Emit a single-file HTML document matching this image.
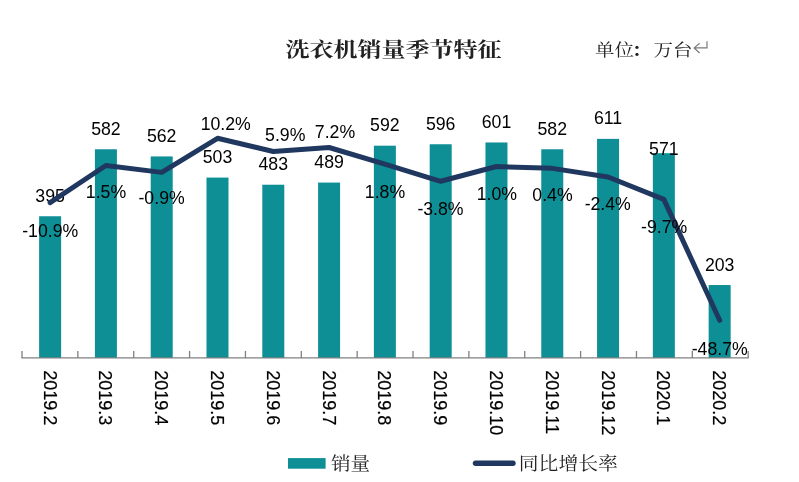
<!DOCTYPE html>
<html lang="zh-CN"><head><meta charset="utf-8"><title>洗衣机销量季节特征</title>
<style>
html,body{margin:0;padding:0;background:#fff;}
body{width:799px;height:482px;overflow:hidden;}
svg{display:block;}
.num{font-family:"Liberation Sans",sans-serif;font-size:17.70px;fill:#000;}
.cat{font-family:"Liberation Sans",sans-serif;font-size:18.7px;fill:#000;}
.cn{font-family:"Liberation Serif","Noto Serif CJK SC",serif;fill:#222;}
</style></head><body>
<svg width="799" height="482" viewBox="0 0 799 482">
<rect width="799" height="482" fill="#ffffff"/>
<text class="cn" transform="translate(393.5,57.3) scale(1,0.86)" text-anchor="middle" font-size="24" font-weight="700" fill="#000">洗衣机销量季节特征</text>
<text class="cn" transform="translate(595,55.6) scale(1,0.88)" font-size="19.5" fill="#222">单位<tspan dx="-2.3" font-weight="700">：</tspan><tspan dx="2.3">万台</tspan></text>
<path d="M707 41.3 V47.9 H694.4 M699.6 43.3 L694.2 47.9 L699.6 53" stroke="#7a7a7a" stroke-width="1.2" fill="none"/>
<rect x="39.12" y="216.25" width="22.0" height="141.75" fill="#0E8F96"/>
<rect x="94.91" y="149.27" width="22.0" height="208.73" fill="#0E8F96"/>
<rect x="150.71" y="156.43" width="22.0" height="201.57" fill="#0E8F96"/>
<rect x="206.50" y="177.57" width="22.0" height="180.43" fill="#0E8F96"/>
<rect x="262.30" y="184.73" width="22.0" height="173.27" fill="#0E8F96"/>
<rect x="318.09" y="182.58" width="22.0" height="175.42" fill="#0E8F96"/>
<rect x="373.88" y="145.69" width="22.0" height="212.31" fill="#0E8F96"/>
<rect x="429.68" y="144.25" width="22.0" height="213.75" fill="#0E8F96"/>
<rect x="485.47" y="142.46" width="22.0" height="215.54" fill="#0E8F96"/>
<rect x="541.27" y="149.27" width="22.0" height="208.73" fill="#0E8F96"/>
<rect x="597.06" y="138.88" width="22.0" height="219.12" fill="#0E8F96"/>
<rect x="652.85" y="153.21" width="22.0" height="204.79" fill="#0E8F96"/>
<rect x="708.65" y="285.03" width="22.0" height="72.97" fill="#0E8F96"/>
<path d="M21.50 357.90 H748.68" stroke="#808080" stroke-width="1.3" fill="none"/>
<path d="M22.00 357.90 V351.00 M77.86 357.90 V351.00 M133.72 357.90 V351.00 M189.58 357.90 V351.00 M245.44 357.90 V351.00 M301.30 357.90 V351.00 M357.16 357.90 V351.00 M413.02 357.90 V351.00 M468.88 357.90 V351.00 M524.74 357.90 V351.00 M580.60 357.90 V351.00 M636.46 357.90 V351.00 M692.32 357.90 V351.00 M748.18 357.90 V351.00 " stroke="#808080" stroke-width="1.3" fill="none"/>
<text class="num" x="50.12" y="201.85" text-anchor="middle">395</text>
<text class="num" x="105.91" y="134.87" text-anchor="middle">582</text>
<text class="num" x="161.71" y="142.03" text-anchor="middle">562</text>
<text class="num" x="217.50" y="163.17" text-anchor="middle">503</text>
<text class="num" x="273.30" y="170.33" text-anchor="middle">483</text>
<text class="num" x="329.09" y="168.18" text-anchor="middle">489</text>
<text class="num" x="384.88" y="131.29" text-anchor="middle">592</text>
<text class="num" x="440.68" y="129.85" text-anchor="middle">596</text>
<text class="num" x="496.47" y="128.06" text-anchor="middle">601</text>
<text class="num" x="552.27" y="134.87" text-anchor="middle">582</text>
<text class="num" x="608.06" y="124.48" text-anchor="middle">611</text>
<text class="num" x="663.85" y="155.00" text-anchor="middle">571</text>
<text class="num" x="719.65" y="270.63" text-anchor="middle">203</text>
<polyline points="50.12,202.66 105.91,165.50 161.71,172.36 217.50,138.29 273.30,151.49 329.09,147.50 384.88,164.07 440.68,181.27 496.47,166.53 552.27,168.37 608.06,176.97 663.85,199.38 719.65,320.30" fill="none" stroke="#20385F" stroke-width="5" stroke-linecap="round" stroke-linejoin="round"/>
<text class="num" x="50.25" y="236.75" text-anchor="middle">-10.9%</text>
<text class="num" x="106.00" y="197.50" text-anchor="middle">1.5%</text>
<text class="num" x="161.60" y="204.25" text-anchor="middle">-0.9%</text>
<text class="num" x="225.75" y="130.00" text-anchor="middle">10.2%</text>
<text class="num" x="285.25" y="140.50" text-anchor="middle">5.9%</text>
<text class="num" x="335.00" y="138.00" text-anchor="middle">7.2%</text>
<text class="num" x="385.00" y="197.50" text-anchor="middle">1.8%</text>
<text class="num" x="440.50" y="215.00" text-anchor="middle">-3.8%</text>
<text class="num" x="496.90" y="200.00" text-anchor="middle">1.0%</text>
<text class="num" x="552.50" y="200.50" text-anchor="middle">0.4%</text>
<text class="num" x="607.75" y="210.00" text-anchor="middle">-2.4%</text>
<text class="num" x="664.20" y="233.40" text-anchor="middle">-9.7%</text>
<text class="num" x="719.70" y="354.70" text-anchor="middle">-48.7%</text>
<text class="cat" transform="translate(43.62,370.2) rotate(90) scale(0.965,1)" stroke="#000" stroke-width="0.2">2019.2</text>
<text class="cat" transform="translate(99.41,370.2) rotate(90) scale(0.965,1)" stroke="#000" stroke-width="0.2">2019.3</text>
<text class="cat" transform="translate(155.21,370.2) rotate(90) scale(0.965,1)" stroke="#000" stroke-width="0.2">2019.4</text>
<text class="cat" transform="translate(211.00,370.2) rotate(90) scale(0.965,1)" stroke="#000" stroke-width="0.2">2019.5</text>
<text class="cat" transform="translate(266.80,370.2) rotate(90) scale(0.965,1)" stroke="#000" stroke-width="0.2">2019.6</text>
<text class="cat" transform="translate(322.59,370.2) rotate(90) scale(0.965,1)" stroke="#000" stroke-width="0.2">2019.7</text>
<text class="cat" transform="translate(378.38,370.2) rotate(90) scale(0.965,1)" stroke="#000" stroke-width="0.2">2019.8</text>
<text class="cat" transform="translate(434.18,370.2) rotate(90) scale(0.965,1)" stroke="#000" stroke-width="0.2">2019.9</text>
<text class="cat" transform="translate(489.97,370.2) rotate(90) scale(0.965,1)" stroke="#000" stroke-width="0.2">2019.10</text>
<text class="cat" transform="translate(545.77,370.2) rotate(90) scale(0.965,1)" stroke="#000" stroke-width="0.2">2019.11</text>
<text class="cat" transform="translate(601.56,370.2) rotate(90) scale(0.965,1)" stroke="#000" stroke-width="0.2">2019.12</text>
<text class="cat" transform="translate(657.35,370.2) rotate(90) scale(0.965,1)" stroke="#000" stroke-width="0.2">2020.1</text>
<text class="cat" transform="translate(713.15,370.2) rotate(90) scale(0.965,1)" stroke="#000" stroke-width="0.2">2020.2</text>
<rect x="288" y="458.1" width="37.6" height="10.6" fill="#0E8F96"/>
<text class="cn" transform="translate(331,469.8) scale(1,0.94)" font-size="19.6">销量</text>
<path d="M475.5 463.2 H513" stroke="#20385F" stroke-width="5.4" stroke-linecap="round" fill="none"/>
<text class="cn" transform="translate(518.8,469.6) scale(1,0.94)" font-size="19.8">同比增长率</text>
</svg></body></html>
